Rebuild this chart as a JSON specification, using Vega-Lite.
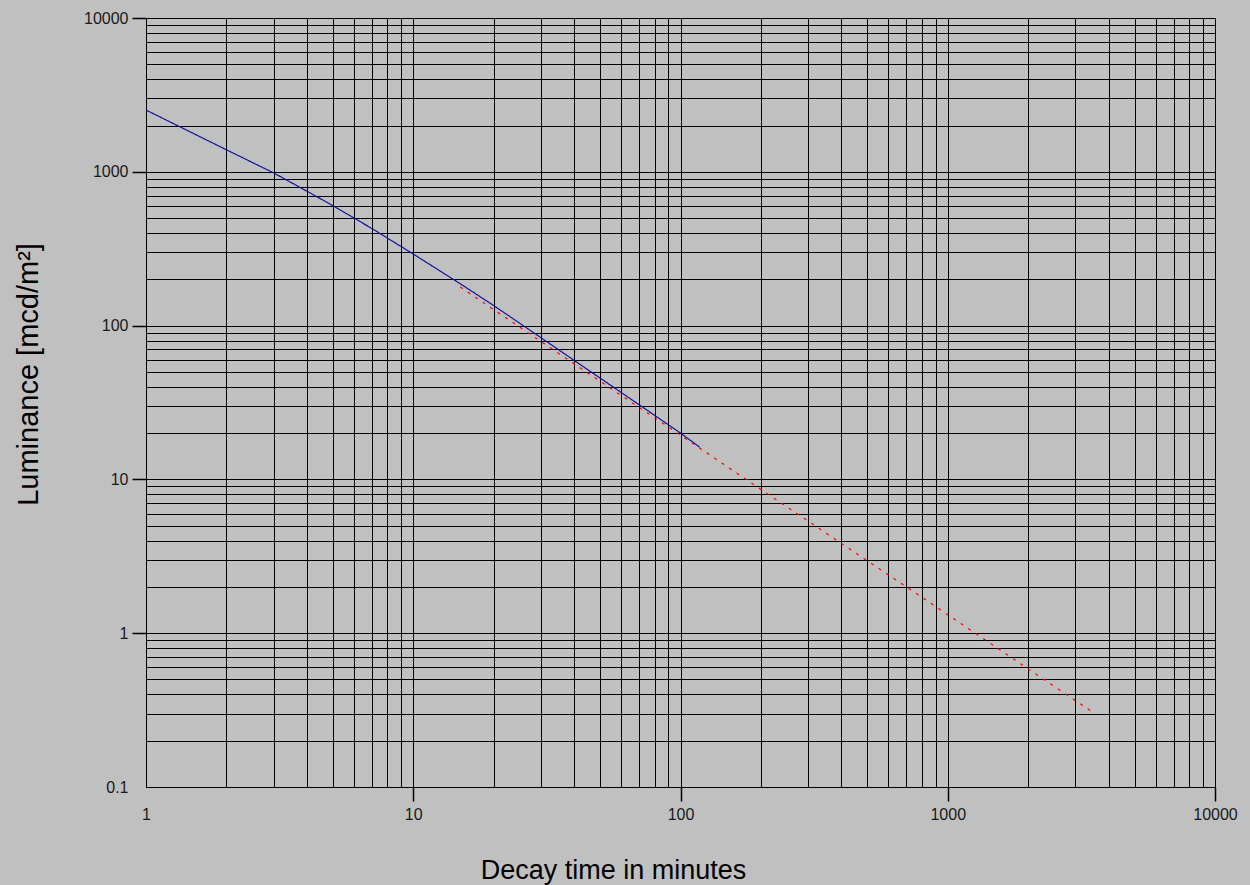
{
  "$schema": "https://vega.github.io/schema/vega-lite/v6.json",
  "width": 1069,
  "height": 769,
  "autosize": {"type": "none"},
  "padding": {"left": 146, "top": 18, "right": 35, "bottom": 98},
  "background": "#c0c0c0",
  "config": {
    "view": {"stroke": "#000000", "strokeWidth": 1},
    "font": "Liberation Sans",
    "axis": {
      "grid": true,
      "gridColor": "#000000",
      "gridOpacity": 1,
      "gridWidth": 1,
      "domainColor": "#000000",
      "ticks": true,
      "tickColor": "#000000",
      "tickOpacity": 1,
      "tickWidth": 1.5,
      "labelColor": "#1a1a1a",
      "labelFont": "Liberation Sans",
      "labelFontSize": 16,
      "titleFont": "Liberation Sans",
      "titleFontWeight": "normal",
      "titleFontSize": 27,
      "titleColor": "#000000",
      "labelOverlap": false,
      "labelFlush": false
    }
  },
  "data": {
    "values": [
      {"series": "measured", "t": 1, "L": 2520},
      {"series": "measured", "t": 1.5, "L": 1780},
      {"series": "measured", "t": 2, "L": 1390},
      {"series": "measured", "t": 3, "L": 985},
      {"series": "measured", "t": 4, "L": 748},
      {"series": "measured", "t": 5, "L": 603},
      {"series": "measured", "t": 7, "L": 428},
      {"series": "measured", "t": 10, "L": 292},
      {"series": "measured", "t": 15, "L": 187},
      {"series": "measured", "t": 20, "L": 135},
      {"series": "measured", "t": 30, "L": 83.6},
      {"series": "measured", "t": 40, "L": 59.4},
      {"series": "measured", "t": 50, "L": 45.6},
      {"series": "measured", "t": 70, "L": 30.6},
      {"series": "measured", "t": 100, "L": 20},
      {"series": "measured", "t": 118, "L": 16.2},
      {"series": "extrapolated", "t": 15, "L": 178},
      {"series": "extrapolated", "t": 20, "L": 127},
      {"series": "extrapolated", "t": 30, "L": 79},
      {"series": "extrapolated", "t": 50, "L": 43.5},
      {"series": "extrapolated", "t": 100, "L": 19.4},
      {"series": "extrapolated", "t": 200, "L": 8.6},
      {"series": "extrapolated", "t": 500, "L": 2.96},
      {"series": "extrapolated", "t": 1000, "L": 1.32},
      {"series": "extrapolated", "t": 2000, "L": 0.586},
      {"series": "extrapolated", "t": 3436, "L": 0.312}
    ]
  },
  "mark": {"type": "line", "strokeWidth": 1.2, "clip": true},
  "encoding": {
    "x": {
      "field": "t",
      "type": "quantitative",
      "scale": {"type": "log", "domain": [1, 10000], "nice": false},
      "axis": {
        "title": "Decay time in minutes",
        "values": [1,2,3,4,5,6,7,8,9,10,20,30,40,50,60,70,80,90,100,200,300,400,500,600,700,800,900,1000,2000,3000,4000,5000,6000,7000,8000,9000,10000],
        "format": "~g",
        "labelExpr": "(datum.value == 1 || datum.value == 10 || datum.value == 100 || datum.value == 1000 || datum.value == 10000) ? datum.label : ''",
        "ticks": true,
        "tickSize": {"condition": {"test": "datum.value == 10 || datum.value == 100 || datum.value == 1000 || datum.value == 10000", "value": 14}, "value": 0},
        "labelPadding": {"condition": {"test": "datum.value == 1", "value": 19}, "value": 5},
        "titleAnchor": null,
        "titleAlign": "center",
        "titleX": 467,
        "titleY": 91,
        "titleBaseline": "alphabetic"
      }
    },
    "y": {
      "field": "L",
      "type": "quantitative",
      "scale": {"type": "log", "domain": [0.1, 10000], "nice": false},
      "axis": {
        "title": "Luminance [mcd/m²]",
        "titleFontSize": 29,
        "values": [0.1,0.2,0.3,0.4,0.5,0.6,0.7,0.8,0.9,1,2,3,4,5,6,7,8,9,10,20,30,40,50,60,70,80,90,100,200,300,400,500,600,700,800,900,1000,2000,3000,4000,5000,6000,7000,8000,9000,10000],
        "format": "~g",
        "labelExpr": "(datum.value == 0.1 || datum.value == 1 || datum.value == 10 || datum.value == 100 || datum.value == 1000 || datum.value == 10000) ? datum.label : ''",
        "ticks": true,
        "tickSize": {"condition": {"test": "datum.value == 1 || datum.value == 10 || datum.value == 100 || datum.value == 1000 || datum.value == 10000", "value": 14}, "value": 0},
        "labelPadding": {"condition": {"test": "datum.value == 0.1", "value": 18}, "value": 4},
        "titleAnchor": null,
        "titleAngle": 270,
        "titleAlign": "center",
        "titleBaseline": "middle",
        "titleX": -118,
        "titleY": 356
      }
    },
    "color": {
      "field": "series",
      "type": "nominal",
      "scale": {"domain": ["extrapolated", "measured"], "range": ["#ff0000", "#14149c"]},
      "legend": null
    },
    "strokeDash": {
      "field": "series",
      "type": "nominal",
      "scale": {"domain": ["extrapolated", "measured"], "range": [[3, 6], [1, 0]]},
      "legend": null
    },
    "order": {"field": "t", "type": "quantitative"}
  }
}
